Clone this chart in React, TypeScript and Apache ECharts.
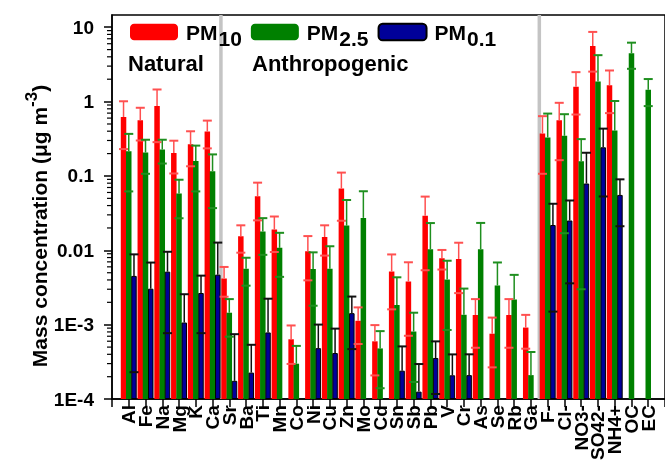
import React, { useEffect, useRef } from 'react';
import * as echarts from 'echarts';

const FONT = "'Liberation Sans', Arial, sans-serif";

const CATEGORIES = ['Al', 'Fe', 'Na', 'Mg', 'K', 'Ca', 'Sr', 'Ba', 'Ti', 'Mn', 'Co', 'Ni', 'Cu', 'Zn', 'Mo', 'Cd', 'Sn', 'Sb', 'Pb', 'V', 'Cr', 'As', 'Se', 'Rb', 'Ga', 'F-', 'Cl-', 'NO3-', 'SO42-', 'NH4+', 'OC', 'EC'];

const PM10 = [0.62, 0.563, 0.87, 0.203, 0.267, 0.395, 0.00418, 0.0155, 0.0533, 0.019, 0.000637, 0.00975, 0.0151, 0.068, 0.00113, 0.000598, 0.00521, 0.00381, 0.0291, 0.00782, 0.00766, 0.00135, 0.000757, 0.00135, 0.000916, 0.372, 0.563, 1.58, 5.59, 1.66, null, null];
const PM10_ERR = [0.39, 0.263, 0.585, 0.095, 0.132, 0.16, 0.0018, 0.0062, 0.028, 0.0095, 0.00034, 0.0058, 0.0066, 0.043, 0.00058, 0.00039, 0.0036, 0.0031, 0.0237, 0.0023, 0.005, 0.00086, 0.00049, 0.00086, 0.00044, 0.265, 0.4, 0.91, 3.06, 0.96, null, null];
const PM25 = [0.215, 0.207, 0.227, 0.058, 0.159, 0.116, 0.00145, 0.00565, 0.0179, 0.0108, 0.000299, 0.0056, 0.00565, 0.0215, 0.0273, 0.00048, 0.00184, 0.00081, 0.01037, 0.00405, 0.00136, 0.01037, 0.00337, 0.00218, 0.00021, 0.33, 0.347, 0.158, 1.86, 0.408, 4.48, 1.44];
const PM25_ERR = [0.153, 0.1, 0.08, 0.031, 0.097, 0.079, 0.00076, 0.0023, 0.0092, 0.0064, 0.00022, 0.0038, 0.0057, 0.026, 0.035, 0.00034, 0.0025, 0.00064, 0.0129, 0.0032, 0.0017, 0.013, 0.0035, 0.0025, 0.00022, 0.36, 0.33, 0.155, 2.35, 0.61, 1.72, 0.57];
const PM01 = [0.00453, 0.00305, 0.00517, 0.00107, 0.00267, 0.00471, 0.000176, 0.000227, 0.000787, null, null, 0.000484, 0.000416, 0.00143, null, null, 0.000241, 0.000126, 0.000357, 0.000209, 0.00021, null, null, null, null, 0.0219, 0.0252, 0.0792, 0.243, 0.0556, null, null];
const PM01_ERR = [0.0043, 0.0038, 0.0044, 0.0015, 0.0019, 0.008, 0.00057, 0.00031, 0.00145, null, null, 0.00052, 0.00047, 0.00096, null, null, 0.00027, 0.00017, 0.00024, 0.00019, 0.00019, null, null, null, null, 0.0204, 0.0216, 0.126, 0.19, 0.0345, null, null];

const SERIES_NAMES = ['PM10', 'PM2.5', 'PM0.1'];
const SERIES_SUBS = ['10', '2.5', '0.1'];
const SEPARATORS = [['Ca', 'Sr'], ['Ga', 'F-']];
const GROUP_LABELS = ['Natural', 'Anthropogenic'];

const Y_MIN = 1e-4;
const Y_MAX = 14.6;
const MINOR_MULT = [2, 3, 4, 5, 6, 7, 8, 9];
const DECADES = [1e-4, 1e-3, 1e-2, 1e-1, 1];

const COLORS = ['#ff0000', '#008000', '#000099'];
const ERR_COLORS = ['#ff5050', '#1f8f1f', '#111111'];

const BAR_W = 5.5;
const BAR_GAP = -0.05;

export default function App() {
  const ref = useRef<HTMLDivElement>(null);
  useEffect(() => {
    if (!ref.current) return;
    const chart = echarts.init(ref.current, null, { renderer: 'svg' });
    const cats = ['', ...CATEGORIES, ''];
    const pad = (a: (number | null)[]) => [null, ...a, null];
    const values = [PM10, PM25, PM01];
    const errs = [PM10_ERR, PM25_ERR, PM01_ERR];

    const minorData: number[][] = [];
    DECADES.forEach((d) => MINOR_MULT.forEach((m) => minorData.push([0, d * m])));

    const barSeries = values.map((vals, k) => ({
      type: 'bar',
      name: SERIES_NAMES[k],
      data: pad(vals),
      barWidth: BAR_W,
      barGap: `${BAR_GAP * 100}%`,
      itemStyle: {
        color: COLORS[k],
        borderColor: k === 2 ? '#000' : COLORS[k],
        borderWidth: k === 2 ? 1 : 0,
      },
      z: 2,
    }));

    const errSeries = values.map((vals, k) => {
      const data: any[] = [];
      vals.forEach((v, i) => {
        if (v != null && errs[k][i] != null) data.push([CATEGORIES[i], v, errs[k][i]]);
      });
      const offset = (k - 1) * BAR_W * (1 + BAR_GAP);
      return {
        type: 'custom',
        name: SERIES_NAMES[k] + ' err',
        data,
        encode: { x: 0, y: 1 },
        z: 3,
        renderItem: (params: any, api: any) => {
          const c = api.value(0);
          const v = api.value(1);
          const e = api.value(2);
          const p = api.coord([c, v]);
          const t = api.coord([c, v + e]);
          const x = p[0] + offset;
          const half = 4.5;
          const st = { stroke: ERR_COLORS[k], lineWidth: 1.5 };
          const children: any[] = [
            { type: 'line', shape: { x1: x, y1: p[1], x2: x, y2: t[1] }, style: st },
            { type: 'line', shape: { x1: x - half, y1: t[1], x2: x + half, y2: t[1] }, style: { ...st, lineWidth: 2 } },
          ];
          if (v - e > Y_MIN) {
            const b = api.coord([c, v - e]);
            children.push({ type: 'line', shape: { x1: x - half, y1: b[1], x2: x + half, y2: b[1] }, style: { ...st, lineWidth: 2 } });
          }
          return { type: 'group', children };
        },
      };
    });

    const option: any = {
      animation: false,
      grid: { left: 112, top: 15, bottom: 56, right: -7, show: true, borderColor: '#000', borderWidth: 1.5, containLabel: false },
      legend: {
        data: SERIES_NAMES,
        left: 130,
        top: 21.5,
        padding: 0,
        itemWidth: 48,
        itemHeight: 16.5,
        itemGap: 9,
        selectedMode: false,
        formatter: (name: string) => `{a|PM}{b|${SERIES_SUBS[SERIES_NAMES.indexOf(name)]}}`,
        textStyle: {
          rich: {
            a: { fontSize: 21, fontWeight: 'bold', fontFamily: FONT, color: '#000', padding: [0, 0, 0, 3] },
            b: { fontSize: 21, fontWeight: 'bold', fontFamily: FONT, color: '#000', padding: [12, 0, 0, 1] },
          },
        },
      },
      xAxis: {
        type: 'category',
        data: cats,
        boundaryGap: false,
        axisLine: { lineStyle: { color: '#000', width: 1.5 } },
        axisTick: { show: true, interval: 0, length: 8, lineStyle: { color: '#000', width: 1.5 } },
        axisLabel: { interval: 0, rotate: 90, margin: 6, fontSize: 19, fontWeight: 'bold', fontFamily: FONT, color: '#000' },
        splitLine: { show: false },
      },
      yAxis: {
        type: 'log',
        logBase: 10,
        min: Y_MIN,
        max: Y_MAX,
        startValue: Y_MIN,
        axisLine: { show: true, lineStyle: { color: '#000', width: 1.5 } },
        axisTick: { show: true, length: 8, lineStyle: { color: '#000', width: 1.5 } },
        splitLine: { show: false },
        axisLabel: {
          showMaxLabel: false,
          margin: 18,
          fontSize: 19,
          fontWeight: 'bold',
          fontFamily: FONT,
          color: '#000',
          formatter: (v: number) => (v >= 0.01 ? String(Number(v.toPrecision(3))) : '1E-' + Math.round(-Math.log10(v))),
        },
      },
      graphic: [
        {
          type: 'text',
          x: 39,
          y: 226,
          rotation: Math.PI / 2,
          style: {
            text: '{a|Mass concentration (μg m}{s|-3}{a|)}',
            align: 'center',
            verticalAlign: 'middle',
            rich: {
              a: { fontSize: 21, fontWeight: 'bold', fontFamily: FONT, fill: '#000' },
              s: { fontSize: 17, fontWeight: 'bold', fontFamily: FONT, fill: '#000', padding: [0, 0, 16, 0] },
            },
          },
        },
        { type: 'text', x: 128, y: 63, style: { text: GROUP_LABELS[0], font: `bold 22px ${FONT}`, fill: '#000', verticalAlign: 'middle' } },
        { type: 'text', x: 252, y: 63, style: { text: GROUP_LABELS[1], font: `bold 22px ${FONT}`, fill: '#000', verticalAlign: 'middle' } },
      ],
      series: [
        {
          type: 'custom',
          name: 'separators',
          data: SEPARATORS.map((s) => [s[0], s[1]]),
          encode: { x: [0, 1] },
          z: 1,
          renderItem: (params: any, api: any) => {
            const a = api.coord([api.value(0), Y_MIN]);
            const b = api.coord([api.value(1), Y_MIN]);
            const x = (a[0] + b[0]) / 2;
            const cs = params.coordSys;
            return { type: 'line', shape: { x1: x, y1: cs.y, x2: x, y2: cs.y + cs.height }, style: { stroke: '#c4c4c4', lineWidth: 3.5 } };
          },
        },
        {
          type: 'custom',
          name: 'minorTicks',
          data: minorData,
          encode: { x: 0, y: 1 },
          renderItem: (params: any, api: any) => {
            const p = api.coord([0, api.value(1)]);
            const x0 = params.coordSys.x;
            return { type: 'line', shape: { x1: x0 - 5, y1: p[1], x2: x0, y2: p[1] }, style: { stroke: '#000', lineWidth: 1.2 } };
          },
        },
        barSeries[0], errSeries[0], barSeries[1], errSeries[1], barSeries[2], errSeries[2],
      ],
    };
    chart.setOption(option);
    return () => chart.dispose();
  }, []);
  return <div ref={ref} style={{ position: 'fixed', left: 0, top: 0, width: 665, height: 463 }} />;
}
